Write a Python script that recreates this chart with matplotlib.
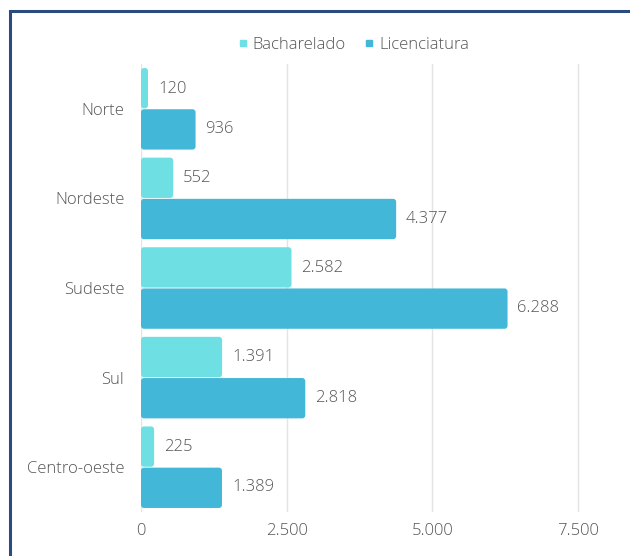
import matplotlib
matplotlib.use("Agg")
import matplotlib.pyplot as plt
from matplotlib.patches import Rectangle, FancyBboxPatch
import numpy as np

regions = ["Norte", "Nordeste", "Sudeste", "Sul", "Centro-oeste"]
bacharelado = [120, 552, 2582, 1391, 225]
licenciatura = [936, 4377, 6288, 2818, 1389]
series_names = ["Bacharelado", "Licenciatura"]
xticks = [0, 2500, 5000, 7500]

plt.rcParams["font.family"] = ["Open Sans", "DejaVu Sans"]
plt.rcParams["font.weight"] = "light"

W, H = 630, 556
fig = plt.figure(figsize=(W / 100, H / 100), dpi=100)
fig.patch.set_facecolor("white")

# frame around the chart
fig.patches.append(Rectangle((10 / W, -0.05), 1.2, 1 - 11 / H + 0.05,
                             transform=fig.transFigure, fill=False,
                             edgecolor="#2b4a7f", linewidth=2.2))

left, right, top, bottom = 141, 612, 64, 512
ax = fig.add_axes([left / W, 1 - bottom / H, (right - left) / W, (bottom - top) / H])

c_bach = "#6ee0e4"
c_lic = "#42b7d7"
text_c = "#555555"
fmt = lambda v: f"{v:,}".replace(",", ".")

xmax = 8080
ax.set_xlim(0, xmax)
ax.set_ylim(4.5, -0.5)

y = np.arange(len(regions))
h = 0.45
bars_b = ax.barh(y - h / 2 - 0.005, bacharelado, height=h, color=c_bach, zorder=2)
bars_l = ax.barh(y + h / 2 + 0.005, licenciatura, height=h, color=c_lic, zorder=2)

# swap the plain rectangles for slightly rounded ones
x_per_px = xmax / (right - left)
y_per_px = 5.0 / (bottom - top)
radius = 3 * x_per_px
for bars in (bars_b, bars_l):
    for r in bars:
        r.set_visible(False)
        w = r.get_width()
        rad = min(radius, w / 2)
        p = FancyBboxPatch((r.get_x(), r.get_y()), w, r.get_height(),
                           boxstyle=f"round,pad=0,rounding_size={rad}",
                           mutation_aspect=y_per_px / x_per_px,
                           facecolor=r.get_facecolor(), edgecolor="none",
                           zorder=2)
        ax.add_patch(p)

for yi, v in zip(y, bacharelado):
    ax.text(v + 170, yi - h / 2, fmt(v), va="center", ha="left",
            fontsize=12, color=text_c, fontweight="light")
for yi, v in zip(y, licenciatura):
    ax.text(v + 170, yi + h / 2, fmt(v), va="center", ha="left",
            fontsize=12, color=text_c, fontweight="light")

ax.set_xticks(xticks)
ax.set_xticklabels([fmt(t) for t in xticks], fontsize=12, color=text_c,
                   fontweight="light")
ax.set_yticks(y)
ax.set_yticklabels(regions, fontsize=12, color=text_c, fontweight="light")
ax.tick_params(length=0, pad=12)
ax.tick_params(axis="x", pad=8)
ax.grid(axis="x", color="#e4e4e4", linewidth=1, zorder=0)
for s in ax.spines.values():
    s.set_visible(False)

# legend with small square markers
handles = [plt.Line2D([], [], marker="s", linestyle="", markersize=4, color=c)
           for c in (c_bach, c_lic)]
fig.legend(handles, series_names, loc="center", bbox_to_anchor=(351 / W, 1 - 45 / H),
           ncol=2, frameon=False, prop={"size": 12, "weight": "light"},
           handletextpad=0.0, handlelength=1.2, columnspacing=0.8,
           labelcolor=text_c)

fig.savefig("out.png", dpi=100, facecolor="white")
